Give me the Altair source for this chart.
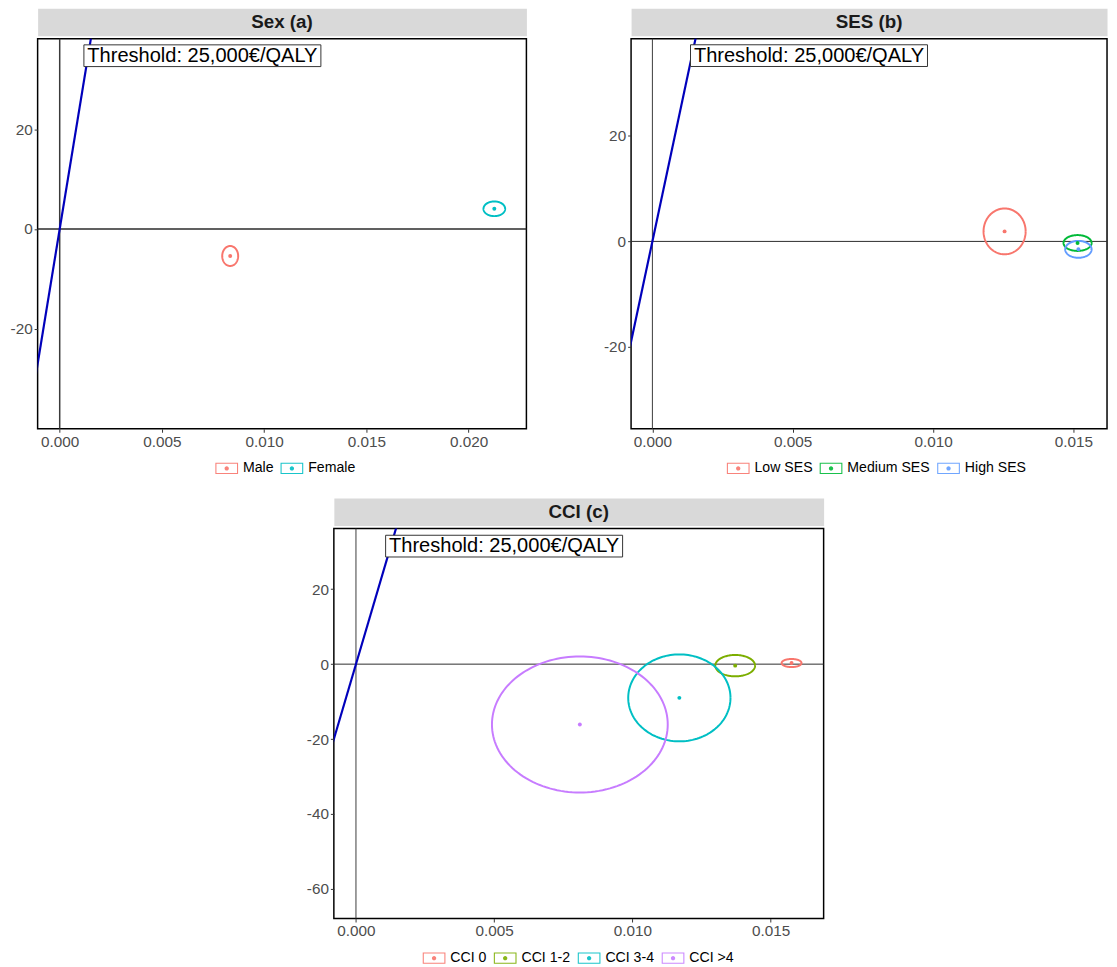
import numpy as np
import pandas as pd
import altair as alt

FONT = "Liberation Sans"
WTP = 25000
THRESH_X = [-0.002, 0.002]
LABEL_TEXT = "Threshold: 25,000€/QALY"

# ---- Panel (a) Sex
SEX_TITLE = "Sex (a)"
SEX_GROUPS = ["Male", "Female"]
SEX_COLORS = ["#F8766D", "#00BFC4"]
SEX_CX = [0.00834, 0.02126]
SEX_CY = [-5.4, 4.05]
SEX_RX = [0.00039, 0.00053]
SEX_RY = [2.0, 1.47]

# ---- Panel (b) SES
SES_TITLE = "SES (b)"
SES_GROUPS = ["Low SES", "Medium SES", "High SES"]
SES_COLORS = ["#F8766D", "#00BA38", "#619CFF"]
SES_CX = [0.01255, 0.01515, 0.01518]
SES_CY = [1.9, -0.3, -1.5]
SES_RX = [0.00075, 0.00050, 0.00047]
SES_RY = [4.34, 1.5, 1.6]

# ---- Panel (c) CCI
CCI_TITLE = "CCI (c)"
CCI_GROUPS = ["CCI 0", "CCI 1-2", "CCI 3-4", "CCI >4"]
CCI_COLORS = ["#F8766D", "#7CAE00", "#00BFC4", "#C77CFF"]
CCI_CX = [0.01576, 0.01372, 0.01170, 0.00810]
CCI_CY = [0.3, -0.4, -9.0, -16.1]
CCI_RX = [0.00036, 0.00072, 0.00185, 0.00318]
CCI_RY = [1.08, 2.85, 11.6, 18.15]

# axis domains / ticks
SEX_XDOM = [-0.00108, 0.02283]
SEX_YDOM = [-40.0, 38.1]
SES_XDOM = [-0.00076, 0.01620]
SES_YDOM = [-35.5, 38.4]
CCI_XDOM = [-0.00080, 0.01692]
CCI_YDOM = [-67.9, 36.2]
SEX_XTICKS = [0.0, 0.005, 0.010, 0.015, 0.020]
SES_XTICKS = [0.0, 0.005, 0.010, 0.015]
CCI_XTICKS = [0.0, 0.005, 0.010, 0.015]
SEX_YTICKS = [-20, 0, 20]
SES_YTICKS = [-20, 0, 20]
CCI_YTICKS = [-60, -40, -20, 0, 20]

# threshold label anchor (data units)
LABEL_X = [0.00698, 0.00558, 0.00536]
LABEL_Y = [34.7, 35.2, 31.5]

BOX_W = 240
BOX_PATH = "M-1,-0.0917H1V0.0917H-1Z"
# legend key: rectangular outline (ring) with a dot in the middle
KEY_PATH = ("M-1,-0.5H1V0.5H-1Z"
            "M-0.905,-0.405V0.405H0.905V-0.405Z"
            "M-0.19,0A0.19,0.19,0,1,1,0.19,0A0.19,0.19,0,1,1,-0.19,0Z")

PLOT_H = 395
STRIP_H = 28


def make_panel(title, groups, colors, cx, cy, rx, ry, xdom, ydom, xticks,
               yticks, lab_x, lab_y, width, legend_x, zero_w):
    t = np.linspace(0, 2 * np.pi, 145)
    rows = []
    for g, a, b, c, d in zip(groups, cx, cy, rx, ry):
        for i, tt in enumerate(t):
            rows.append({"g": g, "i": i,
                         "x": a + c * np.cos(tt), "y": b + d * np.sin(tt)})
    ell = pd.DataFrame(rows)
    ctr = pd.DataFrame({"grp": groups, "x": cx, "y": cy})

    xs = alt.Scale(domain=xdom, nice=False, zero=False)
    ys = alt.Scale(domain=ydom, nice=False, zero=False)
    xax = alt.Axis(values=xticks, format=".3f", title=None)
    yax = alt.Axis(values=yticks, title=None, labelExpr="'' + datum.value")

    def X():
        return alt.X("x:Q", scale=xs, axis=xax)

    def Y():
        return alt.Y("y:Q", scale=ys, axis=yax)

    hline = alt.Chart(pd.DataFrame({"y": [0.0]})).mark_rule(
        color="#2b2b2b", strokeWidth=zero_w).encode(y=Y())
    vline = alt.Chart(pd.DataFrame({"x": [0.0]})).mark_rule(
        color="#3a3a3a", strokeWidth=zero_w).encode(x=X())
    thr = alt.Chart(pd.DataFrame({"x": THRESH_X})).transform_calculate(
        y=f"{WTP}*datum.x").mark_line(
        clip=True, color="#0000BB", strokeWidth=2.2).encode(x=X(), y=Y())

    ellipses = alt.Chart(ell).mark_line(strokeWidth=2).encode(
        x=X(), y=Y(), order="i:Q",
        stroke=alt.Stroke(
            "g:N", scale=alt.Scale(domain=groups, range=colors),
            legend=alt.Legend(
                orient="none", legendX=legend_x, legendY=423.5,
                direction="horizontal", title=None,
                symbolType=KEY_PATH, symbolSize=529,
                symbolStrokeWidth=0, symbolOpacity=0.9,
                labelFont=FONT, labelFontSize=14.3, labelColor="#000000",
                labelOffset=5, columnPadding=7)))
    centers = alt.Chart(ctr).mark_circle(size=16, opacity=1).encode(
        x=X(), y=Y(),
        fill=alt.Fill("grp:N", scale=alt.Scale(domain=groups, range=colors),
                      legend=None))

    lab = pd.DataFrame({"x": [lab_x], "y": [lab_y], "t": [LABEL_TEXT]})
    box = alt.Chart(lab).mark_point(
        shape=BOX_PATH, size=BOX_W ** 2, filled=True, fill="white",
        stroke="#333333", strokeWidth=1, opacity=1).encode(x=X(), y=Y())
    txt = alt.Chart(lab).mark_text(
        font=FONT, fontSize=20.3, color="#000000").encode(
        x=X(), y=Y(), text="t:N")

    plot = alt.layer(hline, vline, thr, ellipses, centers, box,
                     txt).properties(
        width=width, height=PLOT_H,
        view=alt.ViewBackground(fill="white", stroke="#000000",
                                strokeWidth=1.5))

    strip = alt.Chart(pd.DataFrame({"t": [title]})).mark_text(
        font=FONT, fontSize=19, fontWeight="bold", color="#1A1A1A").encode(
        text="t:N").properties(
        width=width, height=STRIP_H,
        view=alt.ViewBackground(fill="#D9D9D9", stroke="transparent"))

    return alt.vconcat(strip, plot, spacing=0).resolve_scale(
        stroke="independent", fill="independent")


pa = make_panel(SEX_TITLE, SEX_GROUPS, SEX_COLORS, SEX_CX, SEX_CY, SEX_RX,
                SEX_RY, SEX_XDOM, SEX_YDOM, SEX_XTICKS, SEX_YTICKS,
                LABEL_X[0], LABEL_Y[0], 495, 180, 1.5)
pb = make_panel(SES_TITLE, SES_GROUPS, SES_COLORS, SES_CX, SES_CY, SES_RX,
                SES_RY, SES_XDOM, SES_YDOM, SES_XTICKS, SES_YTICKS,
                LABEL_X[1], LABEL_Y[1], 482, 97, 1.0)
pc = make_panel(CCI_TITLE, CCI_GROUPS, CCI_COLORS, CCI_CX, CCI_CY, CCI_RX,
                CCI_RY, CCI_XDOM, CCI_YDOM, CCI_XTICKS, CCI_YTICKS,
                LABEL_X[2], LABEL_Y[2], 496, 90, 1.0)

spacer = alt.Chart(pd.DataFrame({"a": [0]})).mark_point(opacity=0).properties(
    width=270, height=10,
    view=alt.ViewBackground(fill="transparent", stroke="transparent"))

RES = dict(stroke="independent", fill="independent")
top = alt.hconcat(pa, pb, spacing=75).resolve_scale(**RES)
bottom = alt.hconcat(spacer, pc, spacing=0).resolve_scale(**RES)

chart = alt.vconcat(top, bottom, spacing=20).resolve_scale(**RES).properties(
    padding={"left": 1, "top": -7, "right": 0, "bottom": 0},
    background="white").configure_axis(
    grid=False, domain=False, labelFont=FONT, labelFontSize=15.5,
    labelColor="#4D4D4D", tickColor="#333333", tickSize=3.5, tickWidth=1,
    labelPadding=2)

chart.save("out.html", embed_options={"renderer": "svg", "actions": False})
